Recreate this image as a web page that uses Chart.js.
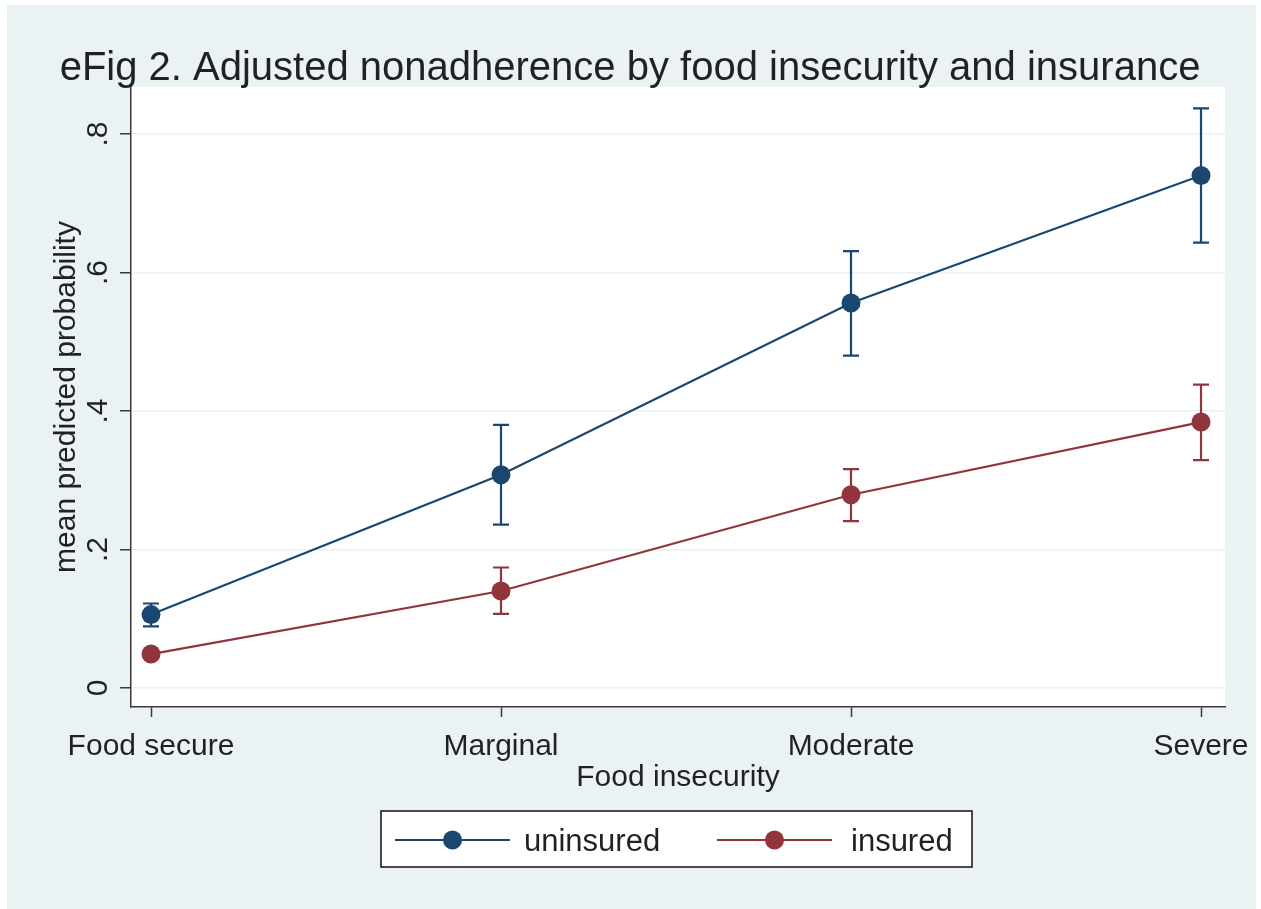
<!DOCTYPE html>
<html>
<head>
<meta charset="utf-8">
<script src="https://cdn.jsdelivr.net/npm/chart.js@4/dist/chart.umd.min.js"></script>
<style>
  html, body { margin: 0; padding: 0; background: #ffffff; }
  #wrap { width: 1261px; height: 909px; }
</style>
</head>
<body>
<div id="wrap"><canvas id="c" width="1261" height="909"></canvas></div>
<script>
// Food insecurity levels on the x axis
const categories = ['Food secure', 'Marginal', 'Moderate', 'Severe'];

// Mean predicted probability of nonadherence with 95% confidence limits
const uninsured   = [0.106, 0.308, 0.556, 0.740];
const uninsuredLo = [0.089, 0.236, 0.480, 0.643];
const uninsuredHi = [0.122, 0.380, 0.631, 0.837];

const insured   = [0.049, 0.140, 0.279, 0.384];
const insuredLo = [0.044, 0.107, 0.241, 0.329];
const insuredHi = [0.054, 0.174, 0.316, 0.438];

const seriesNames = ['uninsured', 'insured'];
const yTicks = [0, 0.2, 0.4, 0.6, 0.8];
const yTickLabels = ['0', '.2', '.4', '.6', '.8'];

const titleText = 'eFig 2. Adjusted nonadherence by food insecurity and insurance';
const xTitle = 'Food insecurity';
const yTitle = 'mean predicted probability';

const NAVY = '#1a476f';
const MAROON = '#90353b';
const GRAPH_BG = '#eaf2f3';
const INK = '#1f2126';
const FONT = '"Liberation Sans", Arial, sans-serif';

const pts = (vals) => vals.map((v, i) => ({ x: i, y: v }));
const ciLow = [uninsuredLo, insuredLo];
const ciHigh = [uninsuredHi, insuredHi];

// Backgrounds: outer graph region and white plot region
const backdrop = {
  id: 'backdrop',
  beforeDraw(chart) {
    const { ctx, chartArea: a } = chart;
    ctx.save();
    ctx.fillStyle = '#ffffff';
    ctx.fillRect(0, 0, chart.width, chart.height);
    ctx.fillStyle = GRAPH_BG;
    ctx.fillRect(7, 5, 1249, 904);
    ctx.fillStyle = '#ffffff';
    ctx.fillRect(a.left, a.top, a.right - a.left, a.bottom - a.top);
    ctx.restore();
  }
};

// Capped confidence interval spikes drawn under the lines and markers
const ciCaps = {
  id: 'ciCaps',
  beforeDatasetsDraw(chart) {
    const { ctx } = chart;
    const xs = chart.scales.x, ys = chart.scales.y;
    ctx.save();
    chart.data.datasets.forEach((ds, di) => {
      ctx.strokeStyle = ds.borderColor;
      ctx.lineWidth = 2.2;
      ds.data.forEach((p, i) => {
        const x = xs.getPixelForValue(p.x);
        const yl = ys.getPixelForValue(ciLow[di][i]);
        const yh = ys.getPixelForValue(ciHigh[di][i]);
        ctx.beginPath();
        ctx.moveTo(x, yl); ctx.lineTo(x, yh);
        ctx.moveTo(x - 8, yl); ctx.lineTo(x + 8, yl);
        ctx.moveTo(x - 8, yh); ctx.lineTo(x + 8, yh);
        ctx.stroke();
      });
    });
    ctx.restore();
  }
};

// Titles, tick labels and the boxed legend
const texts = {
  id: 'texts',
  afterDraw(chart) {
    const { ctx, chartArea: a } = chart;
    const xs = chart.scales.x, ys = chart.scales.y;
    ctx.save();
    ctx.fillStyle = INK;
    ctx.textBaseline = 'alphabetic';

    // main title
    ctx.font = '40px ' + FONT;
    ctx.textAlign = 'center';
    ctx.fillText(titleText, 630, 80);

    // x tick labels
    ctx.font = '30px ' + FONT;
    categories.forEach((c, i) => {
      ctx.fillText(c, xs.getPixelForValue(i), 755);
    });
    // x axis title
    ctx.fillText(xTitle, (a.left + a.right) / 2, 786);

    // y tick labels, rotated
    yTicks.forEach((v, i) => {
      ctx.save();
      ctx.translate(107, ys.getPixelForValue(v));
      ctx.rotate(-Math.PI / 2);
      ctx.fillText(yTickLabels[i], 0, 0);
      ctx.restore();
    });
    // y axis title, rotated
    ctx.save();
    ctx.translate(75, (a.top + a.bottom) / 2);
    ctx.rotate(-Math.PI / 2);
    ctx.fillText(yTitle, 0, 0);
    ctx.restore();

    // legend box
    ctx.fillStyle = '#ffffff';
    ctx.fillRect(381, 811, 591, 56);
    ctx.strokeStyle = '#111111';
    ctx.lineWidth = 1.5;
    ctx.strokeRect(381, 811, 591, 56);
    const keys = [
      { x0: 395, x1: 510, tx: 524 },
      { x0: 717, x1: 832, tx: 851 }
    ];
    chart.data.datasets.forEach((ds, i) => {
      const k = keys[i];
      const cy = 840;
      ctx.strokeStyle = ds.borderColor;
      ctx.lineWidth = 2.2;
      ctx.beginPath();
      ctx.moveTo(k.x0, cy); ctx.lineTo(k.x1, cy);
      ctx.stroke();
      ctx.fillStyle = ds.pointBackgroundColor;
      ctx.beginPath();
      ctx.arc((k.x0 + k.x1) / 2, cy, 9.5, 0, Math.PI * 2);
      ctx.fill();
      ctx.fillStyle = INK;
      ctx.textAlign = 'left';
      ctx.font = '31px ' + FONT;
      ctx.fillText(ds.label, k.tx, 851);
    });
    ctx.restore();
  }
};

new Chart(document.getElementById('c'), {
  type: 'line',
  data: {
    datasets: [
      {
        label: seriesNames[0],
        data: pts(uninsured),
        borderColor: NAVY,
        backgroundColor: NAVY,
        pointBackgroundColor: NAVY,
        borderWidth: 2.2,
        pointRadius: 9.5,
        pointBorderWidth: 0,
        tension: 0,
        clip: false
      },
      {
        label: seriesNames[1],
        data: pts(insured),
        borderColor: MAROON,
        backgroundColor: MAROON,
        pointBackgroundColor: MAROON,
        borderWidth: 2.2,
        pointRadius: 9.5,
        pointBorderWidth: 0,
        tension: 0,
        clip: false
      }
    ]
  },
  options: {
    responsive: false,
    animation: false,
    events: [],
    layout: { padding: { left: 0, top: 87, right: 36, bottom: 0 } },
    plugins: {
      legend: { display: false },
      title: { display: false },
      tooltip: { enabled: false }
    },
    scales: {
      x: {
        type: 'linear',
        min: -20 / 350,
        max: 3 + 24 / 350,
        afterBuildTicks(s) { s.ticks = categories.map((c, i) => ({ value: i })); },
        afterFit(s) { s.height = 202; },
        ticks: { display: false },
        grid: {
          display: true,
          drawOnChartArea: false,
          drawTicks: true,
          tickLength: 10,
          tickColor: '#3a3a3a',
          tickWidth: 1.5
        },
        border: { display: true, color: '#3a3a3a', width: 1.5 }
      },
      y: {
        type: 'linear',
        min: -19 / 692.5,
        max: 0.8 + 47 / 692.5,
        afterBuildTicks(s) { s.ticks = yTicks.map(v => ({ value: v })); },
        afterFit(s) { s.width = 131; },
        ticks: { display: false },
        grid: {
          display: true,
          drawOnChartArea: true,
          drawTicks: true,
          tickLength: 11,
          color: GRAPH_BG,
          lineWidth: 1.5,
          tickColor: '#3a3a3a',
          tickWidth: 1.5
        },
        border: { display: true, color: '#3a3a3a', width: 1.5 }
      }
    }
  },
  plugins: [backdrop, ciCaps, texts]
});
</script>
</body>
</html>
